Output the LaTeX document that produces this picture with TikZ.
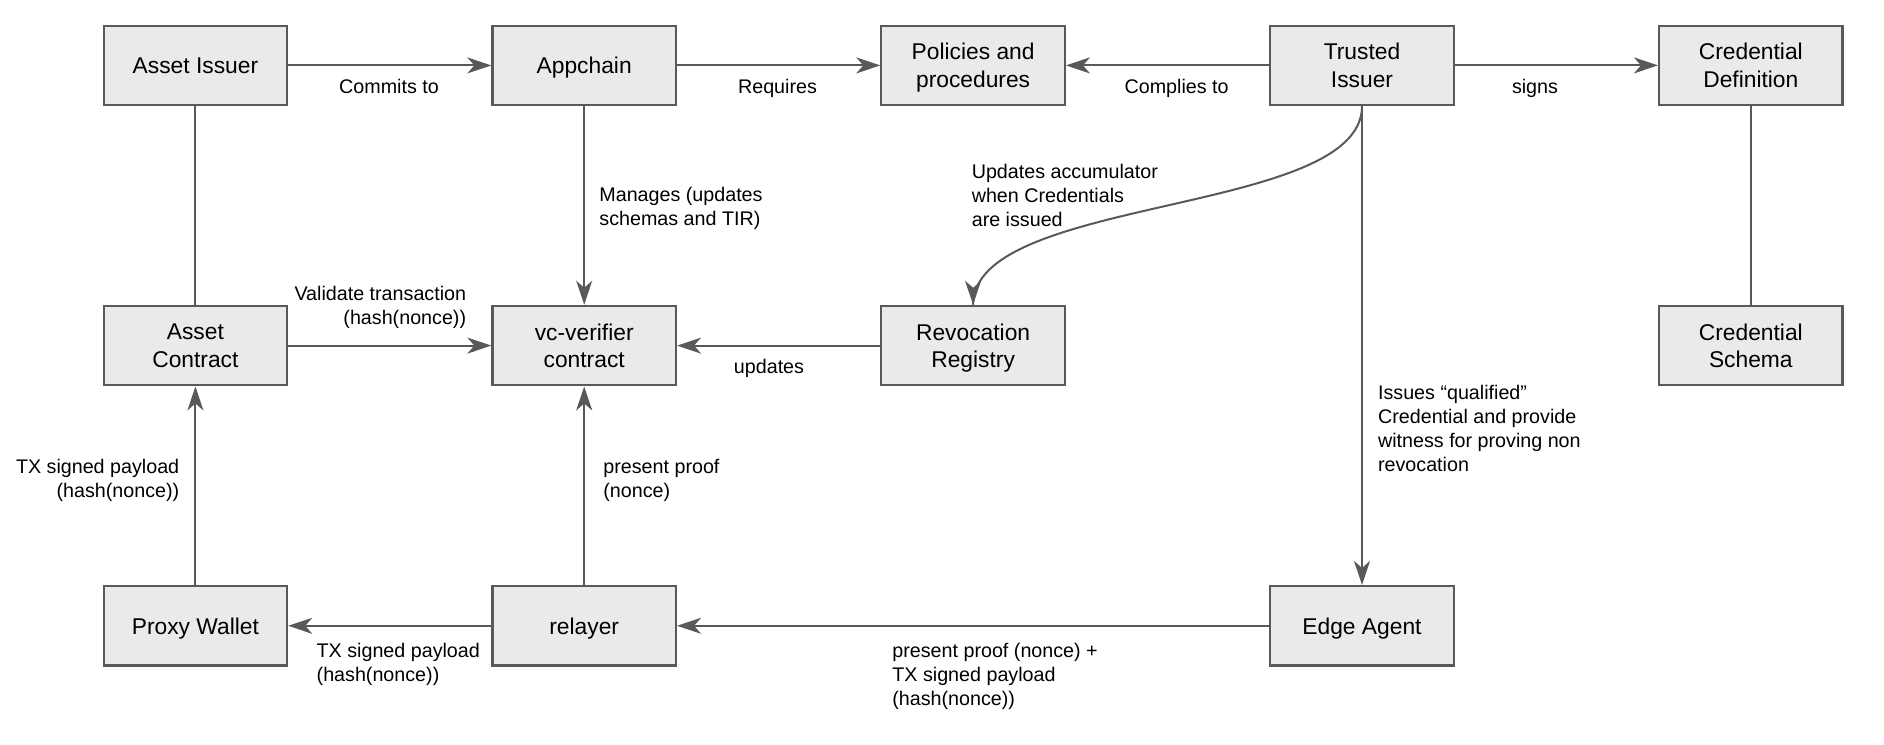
\documentclass[tikz,border=0pt]{standalone}
\usepackage{fontspec}
\setmainfont{Liberation Sans}
\usetikzlibrary{arrows.meta,decorations.markings}
\definecolor{boxfill}{RGB}{234,234,234}
\definecolor{linec}{RGB}{89,89,89}
\newcommand{\mylines}[2]{\begin{tabular}[t]{@{}#1@{}}#2\end{tabular}}
\begin{document}
\begin{tikzpicture}[x=0.5pt,y=0.5pt,
  box/.style={draw=linec, fill=boxfill, line width=1.1pt, minimum width=91.75pt, minimum height=39.75pt, inner sep=0pt, align=center, text depth=0pt, font=\fontsize{11.4}{13.7}\selectfont},
  lbl/.style={inner sep=0pt, font=\fontsize{9.85}{12}\selectfont},
  conn/.style={draw=linec, line width=1pt, -{Stealth[length=12pt,width=8pt,inset=3.5pt]}},
  link/.style={draw=linec, line width=1pt},
  endtip/.style={postaction={decorate}, decoration={markings, mark=at position 0.9999 with {\arrow[linec, line width=1pt]{Stealth[length=12pt,width=8pt,inset=3.5pt]}}}}]
\useasboundingbox (0,0) rectangle (1884,-744);
% boxes
\node[box] (ai) at (195.4,-65.4) {Asset Issuer};
\node[box] (ap) at (584.2,-65.4) {Appchain};
\node[box] (pp) at (973.1,-65.4) {Policies and\\procedures};
\node[box] (ti) at (1362,-65.4) {Trusted\\Issuer};
\node[box] (cd) at (1750.8,-65.4) {Credential\\Definition};
\node[box] (ac) at (195.4,-345.6) {Asset\\Contract};
\node[box] (vc) at (584.2,-345.6) {vc-verifier\\contract};
\node[box] (rr) at (973.1,-345.6) {Revocation\\Registry};
\node[box] (cs) at (1750.8,-345.6) {Credential\\Schema};
\node[box] (pw) at (195.4,-625.8) {Proxy Wallet};
\node[box] (rl) at (584.2,-625.8) {relayer};
\node[box] (ea) at (1362,-625.8) {Edge Agent};
% connectors
\draw[conn] (ai.east) -- (ap.west);
\draw[conn] (ap.east) -- (pp.west);
\draw[conn] (ti.west) -- (pp.east);
\draw[conn] (ti.east) -- (cd.west);
\draw[link] (ai.south) -- (ac.north);
\draw[link] (cd.south) -- (cs.north);
\draw[conn] (ap.south) -- (vc.north);
\draw[conn] (ac.east) -- (vc.west);
\draw[conn] (rr.west) -- (vc.east);
\draw[link, endtip] (ti.south) .. controls (1362,-216) and (973,-195) .. (rr.north);
\draw[conn] (ti.south) -- (ea.north);
\draw[conn] (pw.north) -- (ac.south);
\draw[conn] (rl.north) -- (vc.south);
\draw[conn] (rl.west) -- (pw.east);
\draw[conn] (ea.west) -- (rl.east);
% labels
\node[lbl, anchor=base] (l1) at (389,-93.3) {Commits to};
\node[lbl, anchor=base] (l2) at (777.5,-93.3) {Requires};
\node[lbl, anchor=base] (l3) at (1176.6,-93.3) {Complies to};
\node[lbl, anchor=base] (l4) at (1535,-93.3) {signs};
\node[lbl, anchor=base west] (l5) at (599,-201.7) {\mylines{l}{Manages (updates\\schemas and TIR)}};
\node[lbl, anchor=base east] (l6) at (466.5,-300) {\mylines{r}{Validate transaction\\(hash(nonce))}};
\node[lbl, anchor=base] (l7) at (769,-373) {updates};
\node[lbl, anchor=base west] (l8) at (971.4,-178.4) {\mylines{l}{Updates accumulator\\when Credentials\\are issued}};
\node[lbl, anchor=base west] (l9) at (1377.7,-399.3) {\mylines{l}{Issues “qualified”\\Credential and provide\\witness for proving non\\revocation}};
\node[lbl, anchor=base east] (l10) at (179.6,-473.3) {\mylines{r}{TX signed payload\\(hash(nonce))}};
\node[lbl, anchor=base west] (l11) at (603,-473.3) {\mylines{l}{present proof\\(nonce)}};
\node[lbl, anchor=base west] (l12) at (316.3,-657.3) {\mylines{l}{TX signed payload\\(hash(nonce))}};
\node[lbl, anchor=base west] (l13) at (892,-657.3) {\mylines{l}{present proof (nonce) +\\TX signed payload\\(hash(nonce))}};
\end{tikzpicture}
\end{document}
